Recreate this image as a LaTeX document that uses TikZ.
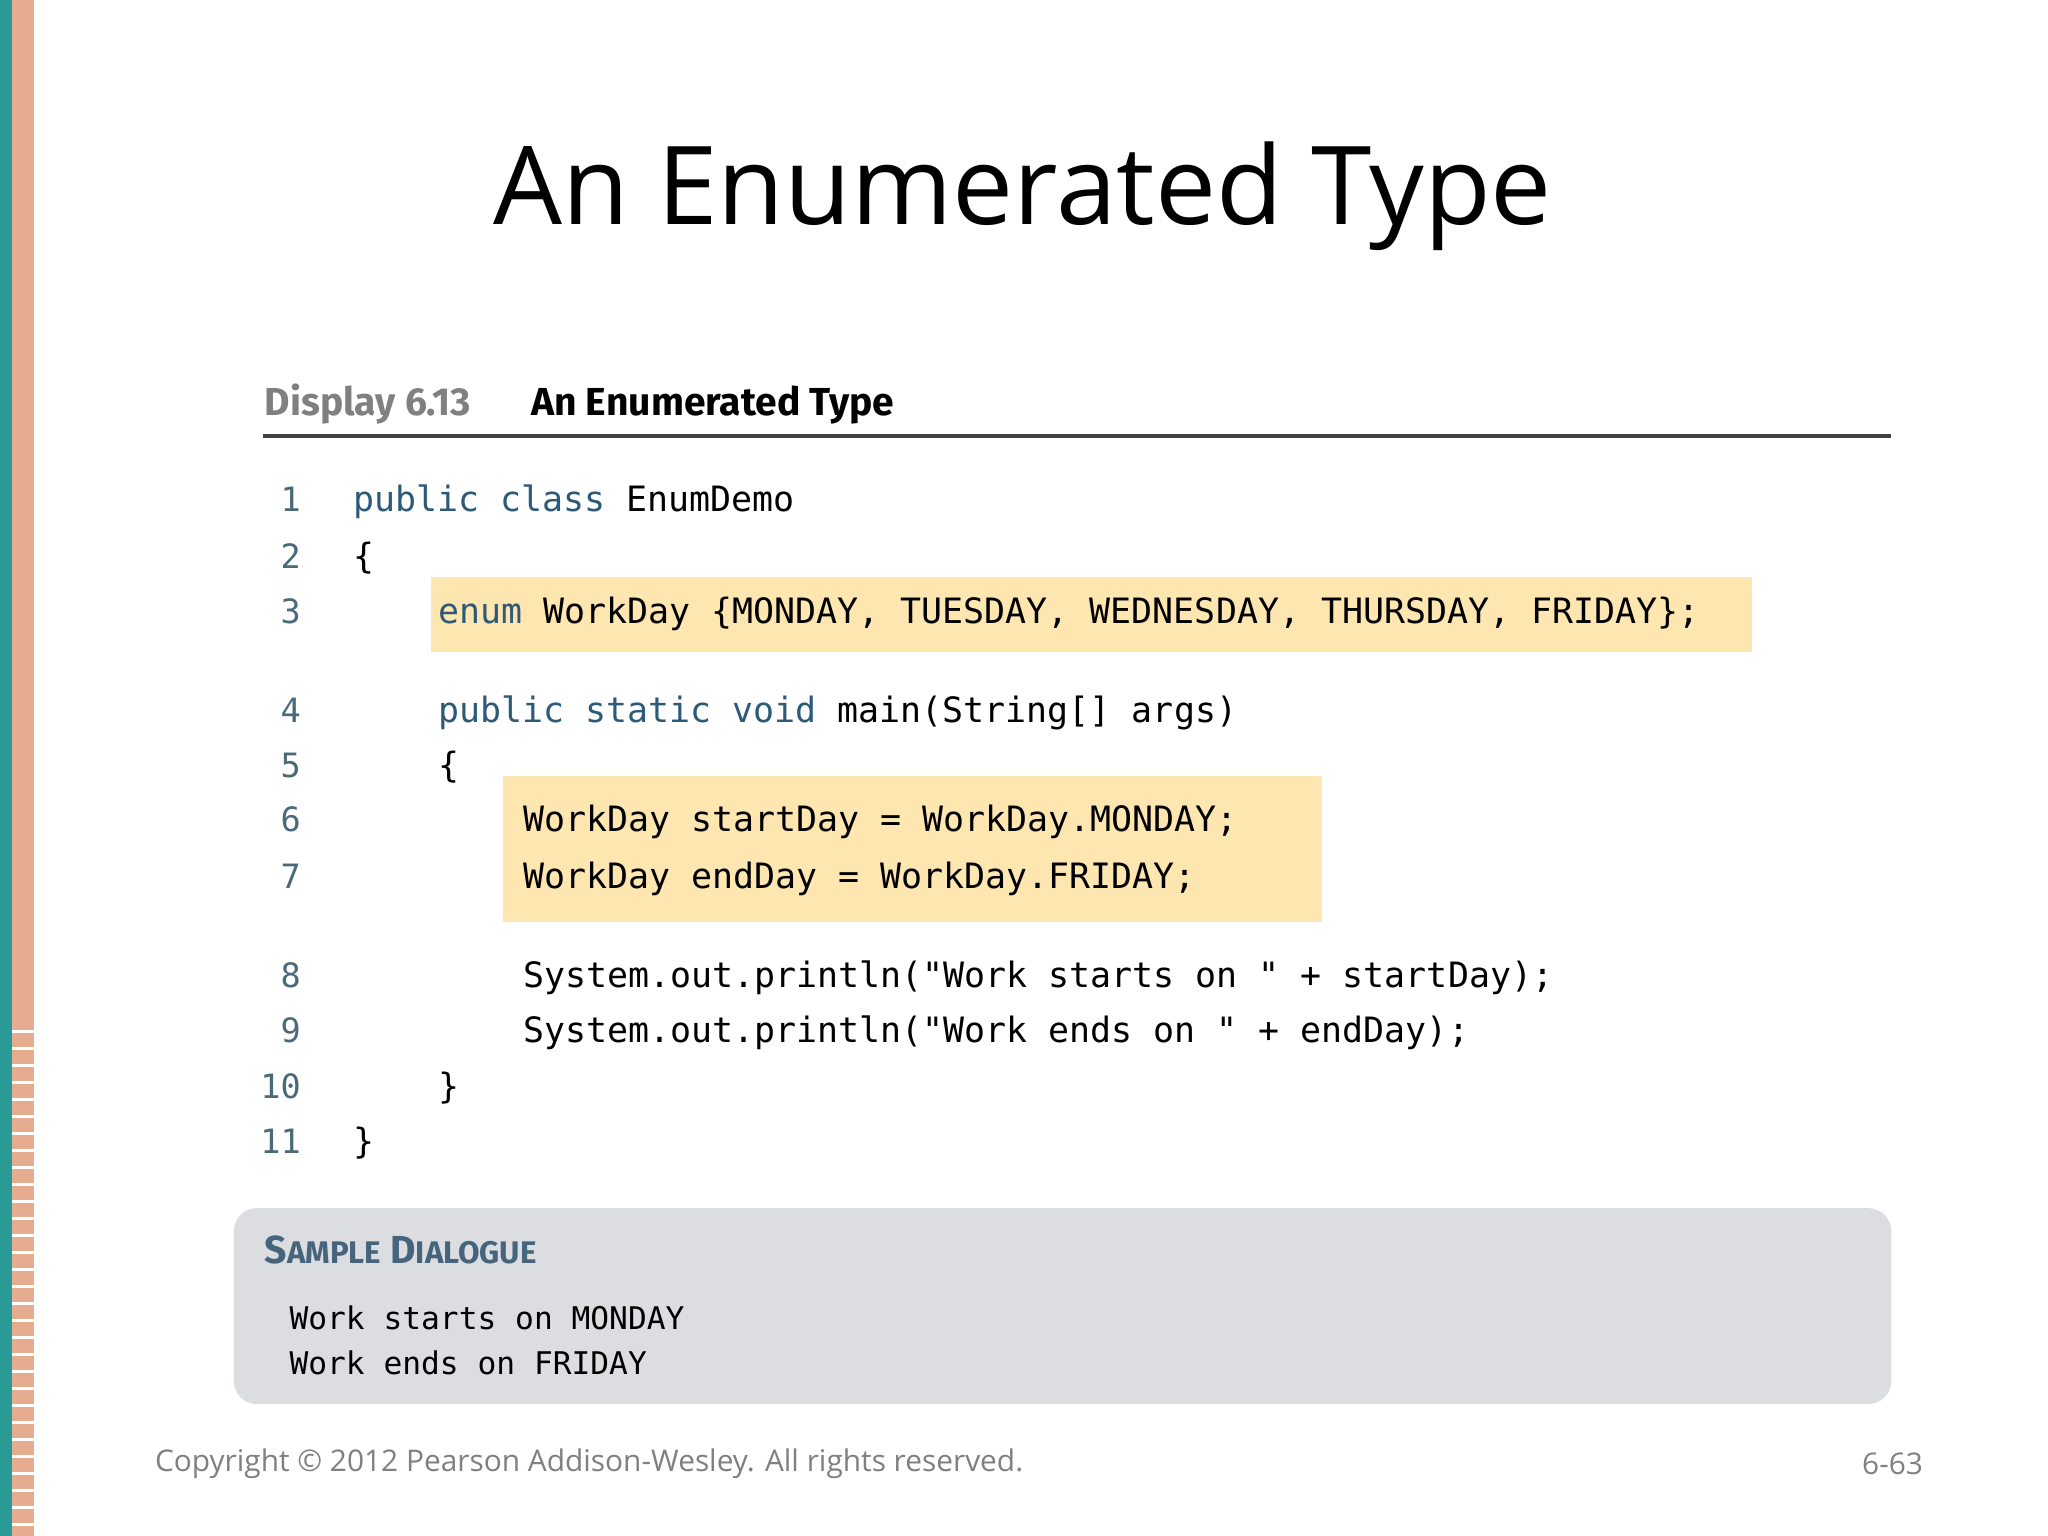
\documentclass[tikz,border=0pt]{standalone}
\usepackage{fontspec}
\setmainfont{Open Sans}
\newfontfamily\codefont{DejaVu Sans Mono}
\newfontfamily\hdfont{Fira Sans}
\definecolor{kw}{HTML}{2E5A7A}
\definecolor{hl}{HTML}{FDE6B0}
\definecolor{numc}{HTML}{4A6A7A}
\definecolor{teal}{HTML}{2A9A96}
\definecolor{salmon}{HTML}{E5AC90}
\definecolor{dlg}{HTML}{DCDDE1}
\begin{document}
\begin{tikzpicture}[x=0.01cm,y=-0.01cm,
  code/.style={anchor=base west,inner sep=0pt,font=\codefont\fontsize{7.6}{9}\selectfont},
  outtext/.style={anchor=base west,inner sep=0pt,font=\codefont\fontsize{6.8}{9}\selectfont},
  num/.style={anchor=base east,inner sep=0pt,text=numc,font=\codefont\fontsize{7.3}{9}\selectfont}]
\useasboundingbox (0,0) rectangle (1568,1176);
\fill[white] (0,0) rectangle (1568,1176);
\fill[teal] (0,0) rectangle (9,1176);
\fill[salmon] (9,0) rectangle (26,1176);
\foreach \y in {790,803,...,1170} \draw[white,line width=0.6pt] (9,\y) -- (26,\y);
\node[font=\fontsize{23.7}{28}\selectfont] (title) at (783,150) {An Enumerated Type};
\node[anchor=base west,inner sep=0pt,text=gray,font=\hdfont\bfseries\fontsize{8.5}{10}\selectfont] (disp) at (202,318) {Display 6.13};
\node[anchor=base west,inner sep=0pt,font=\hdfont\bfseries\fontsize{8.5}{10}\selectfont] (dtitle) at (406,318) {An Enumerated Type};
\draw[line width=0.8pt,black!75] (201,334) -- (1448,334);
\fill[hl] (330,442) rectangle (1341,499);
\fill[hl] (385,594) rectangle (1012,706);
\foreach \n/\y in {1/392,2/435,3/477,4/553,5/595,6/637,7/680,8/756,9/798,10/841,11/883}
  \node[num] (n\n) at (231,\y) {\n};
\node[code] (l1) at (270,392) {\textcolor{kw}{public class} EnumDemo};
\node[code] (l2) at (270,435) {\{};
\node[code] (l3) at (335,477) {\textcolor{kw}{enum} WorkDay \{MONDAY, TUESDAY, WEDNESDAY, THURSDAY, FRIDAY\};};
\node[code] (l4) at (335,553) {\textcolor{kw}{public static void} main(String[] args)};
\node[code] (l5) at (335,595) {\{};
\node[code] (l6) at (400,637) {WorkDay startDay = WorkDay.MONDAY;};
\node[code] (l7) at (400,680) {WorkDay endDay = WorkDay.FRIDAY;};
\node[code] (l8) at (400,756) {System.out.println("Work starts on " + startDay);};
\node[code] (l9) at (400,798) {System.out.println("Work ends on " + endDay);};
\node[code] (l10) at (335,841) {\}};
\node[code] (l11) at (270,883) {\}};
\fill[dlg,rounded corners=5pt] (179,925) rectangle (1448,1075);
\node[anchor=base west,inner sep=0pt,text=kw!70!gray,font=\hdfont\bfseries\fontsize{8.5}{10}\selectfont] (sd) at (202,967) {S{\fontsize{6.8}{8}\selectfont AMPLE} D{\fontsize{6.8}{8}\selectfont IALOGUE}};
\node[outtext] (o1) at (221,1018) {Work starts on MONDAY};
\node[outtext] (o2) at (221,1052) {Work ends on FRIDAY};
\node[anchor=base west,inner sep=0pt,text=gray,font=\fontsize{6.5}{8}\selectfont] (copy) at (118,1127) {Copyright © 2012 Pearson Addison-Wesley. All rights reserved.};
\node[anchor=base east,inner sep=0pt,text=gray,font=\fontsize{6.5}{8}\selectfont] (pg) at (1473,1129) {6-63};
\end{tikzpicture}
\end{document}
